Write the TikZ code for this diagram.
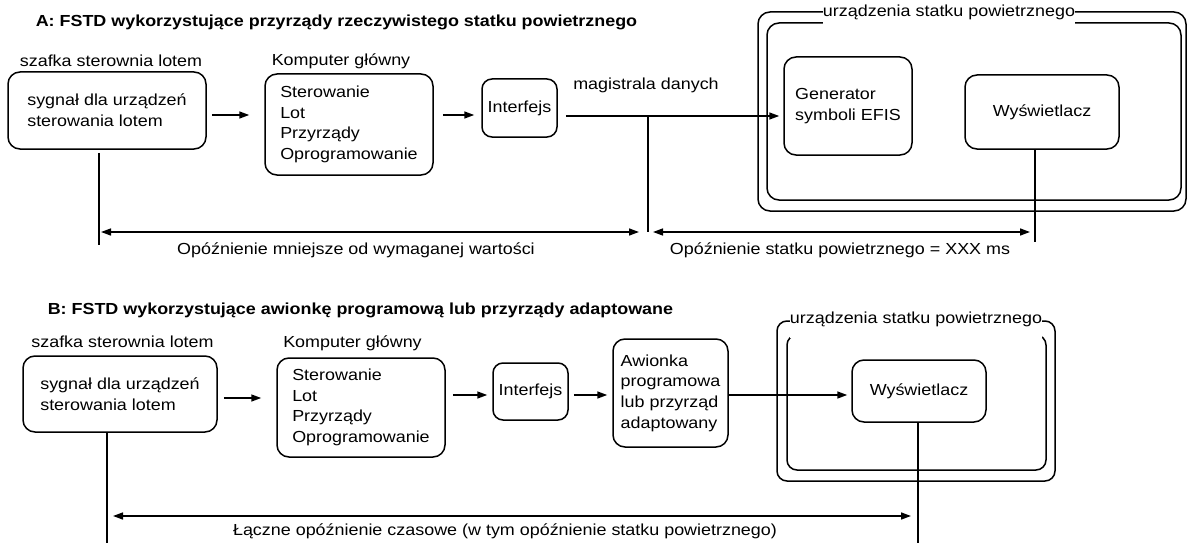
\documentclass[tikz,border=0pt]{standalone}
\usepackage{fontspec}
\setmainfont{Liberation Sans}[FakeStretch=1.12]
\usetikzlibrary{arrows.meta}
\begin{document}
\begin{tikzpicture}[x=1pt,y=-1pt,
  font=\fontsize{16}{20.7}\selectfont,
  line width=1.5pt,
  box/.style={draw, rounded corners=12pt, align=left, inner sep=0pt},
  cont/.style={draw, rounded corners=12pt, inner sep=0pt},
  lbl/.style={inner sep=0pt, align=center},
  ttl/.style={font=\fontsize{16}{20.7}\selectfont\bfseries, anchor=west, inner sep=0pt},
  arr/.style={-{Triangle[length=10pt,width=7pt]}},
  dim/.style={{Triangle[length=10pt,width=7pt]}-{Triangle[length=10pt,width=7pt]}},
  tag/.style={fill=white, inner xsep=0pt}]
\useasboundingbox (0,0) rectangle (1187,543);

% ---------------- A ----------------
\node[ttl] (ta) at (35,22) {A: FSTD wykorzystujące przyrządy rzeczywistego statku powietrznego};
\node[lbl] (aszaf) at (111,61) {szafka sterownia lotem};
\node[lbl] (akomp) at (341,61) {Komputer główny};
\node[lbl] (amag) at (646,85) {magistrala danych};

\node[box, minimum width=198pt, minimum height=77pt] (a1) at (107,110.5) {sygnał dla urządzeń\\sterowania lotem};
\node[box, minimum width=168pt, minimum height=101pt] (a2) at (349,124.5) {Sterowanie\\Lot\\Przyrządy\\Oprogramowanie};
\node[box, minimum width=75pt, minimum height=58pt, rounded corners=10pt] (a3) at (519.5,108) {Interfejs};

\node[cont, minimum width=428pt, minimum height=199pt] (aout) at (972,111.5) {};
\node[cont, minimum width=414pt, minimum height=177pt] (ain) at (974,111.5) {};
\node[tag, inner ysep=5pt] (atag) at (949,12) {urządzenia statku powietrznego};
\node[box, minimum width=128pt, minimum height=98pt] (agen) at (848,106) {Generator\\symboli EFIS};
\node[box, minimum width=154pt, minimum height=74pt] (adisp) at (1042,112) {Wyświetlacz};

\node[lbl] (adl1) at (356,250) {Opóźnienie mniejsze od wymaganej wartości};
\node[lbl] (adl2) at (840,250) {Opóźnienie statku powietrznego = XXX ms};

\coordinate (yA1) at (0,115);
\coordinate (yA2) at (0,116);
\coordinate (yAd) at (0,232);
\coordinate (yAe) at (0,245);
\coordinate (yAf) at (0,242);
\coordinate (bus) at (648,116);
\coordinate (xA1) at (99,0);
\coordinate (xA2) at (1035,0);

\draw[arr, shorten <=5pt, shorten >=15pt] (a1.east |- yA1) -- (a2.west |- yA1);
\draw[arr, shorten <=9pt, shorten >=7pt] (a2.east |- yA1) -- (a3.west |- yA1);
\draw[arr, shorten <=8pt, shorten >=4pt] (a3.east |- yA2) -- (agen.west |- yA2);
\draw (bus) -- (bus |- yAd);
\draw[shorten <=3pt] (xA1 |- a1.south) -- (xA1 |- yAe);
\draw (xA2 |- adisp.south) -- (xA2 |- yAf);
\draw[dim, shorten <=2pt, shorten >=9pt] (xA1 |- yAd) -- (bus |- yAd);
\draw[dim, shorten <=5pt, shorten >=5pt] (bus |- yAd) -- (xA2 |- yAd);

% ---------------- B ----------------
\node[ttl] (tb) at (47,310) {B: FSTD wykorzystujące awionkę programową lub przyrządy adaptowane};
\node[lbl] (bszaf) at (122.5,342) {szafka sterownia lotem};
\node[lbl] (bkomp) at (352.5,343) {Komputer główny};

\node[box, minimum width=194pt, minimum height=76pt] (b1) at (120,394) {sygnał dla urządzeń\\sterowania lotem};
\node[box, minimum width=168pt, minimum height=99pt] (b2) at (361,407.5) {Sterowanie\\Lot\\Przyrządy\\Oprogramowanie};
\node[box, minimum width=75pt, minimum height=57pt, rounded corners=10pt] (b3) at (530.5,391.5) {Interfejs};
\node[box, minimum width=115pt, minimum height=108pt] (baw) at (670.5,393) {Awionka\\programowa\\lub przyrząd\\adaptowany};

\node[cont, minimum width=278pt, minimum height=160pt, rounded corners=10pt] (bout) at (916,401) {};
\node[cont, minimum width=259pt, minimum height=135pt, rounded corners=10pt] (bin) at (916.5,402.5) {};
\node[tag, inner ysep=12pt] (btag) at (916,319) {urządzenia statku powietrznego};
\node[box, minimum width=134pt, minimum height=62pt] (bdisp) at (919,391) {Wyświetlacz};

\node[lbl] (bdl) at (505,531) {Łączne opóźnienie czasowe (w tym opóźnienie statku powietrznego)};

\coordinate (yB1) at (0,398);
\coordinate (yB2) at (0,395);
\coordinate (yBd) at (0,516);
\coordinate (yBe) at (0,543);
\coordinate (xB1) at (107,0);
\coordinate (xB2) at (918,0);

\draw[arr, shorten <=6pt, shorten >=15pt] (b1.east |- yB1) -- (b2.west |- yB1);
\draw[arr, shorten <=7pt, shorten >=5pt] (b2.east |- yB2) -- (b3.west |- yB2);
\draw[arr, shorten <=5pt, shorten >=5pt] (b3.east |- yB2) -- (baw.west |- yB2);
\draw[arr, shorten >=4pt] (baw.east |- yB2) -- (bdisp.west |- yB2);
\draw (xB1 |- b1.south) -- (xB1 |- yBe);
\draw (xB2 |- bdisp.south) -- (xB2 |- yBe);
\draw[dim, shorten <=6pt, shorten >=7pt] (xB1 |- yBd) -- (xB2 |- yBd);
\end{tikzpicture}
\end{document}
